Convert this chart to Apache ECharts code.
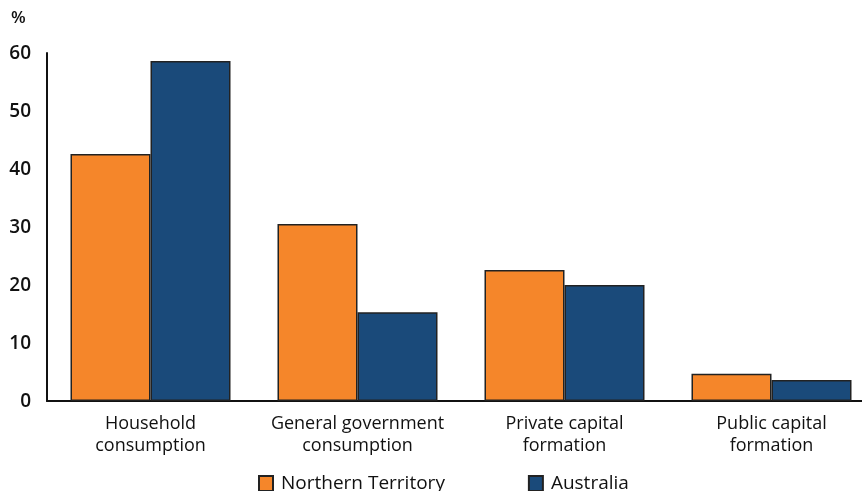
<!DOCTYPE html>
<html>
<head>
<meta charset="utf-8">
<script src="https://cdn.jsdelivr.net/npm/echarts@6/dist/echarts.min.js"></script>
<style>
  html, body { margin: 0; padding: 0; background: #fff; }
  #chart { width: 862px; height: 491px; }
</style>
</head>
<body>
<div id="chart"></div>
<script>
var categories = ['Household\nconsumption', 'General government\nconsumption', 'Private capital\nformation', 'Public capital\nformation']
var ntValues = [42.6, 30.5, 22.6, 4.7]
var ausValues = [58.6, 15.3, 20.0, 3.6]
var yTicks = [0, 10, 20, 30, 40, 50, 60]

var font = 'Open Sans'
var chart = echarts.init(document.getElementById('chart'))

var option = {
  backgroundColor: '#ffffff',
  animation: false,
  textStyle: { fontFamily: font },
  grid: {
    left: 47,
    width: 828,
    top: 53,
    bottom: 90,
    containLabel: false,
    outerBoundsMode: 'none'
  },
  legend: {
    bottom: -7,
    left: 253,
    icon: 'rect',
    itemWidth: 14,
    itemHeight: 15,
    itemGap: 83,
    textStyle: { fontSize: 19, color: '#111', fontFamily: font, fontWeight: 500, padding: [0, 0, 0, 3] },
    data: ['Northern Territory', 'Australia']
  },
  graphic: [
    {
      type: 'text',
      left: 11,
      top: 10,
      style: { text: '%', fontSize: 17, fontWeight: 600, fill: '#111', fontFamily: font }
    }
  ],
  xAxis: {
    type: 'category',
    data: categories,
    axisLine: { lineStyle: { color: '#111', width: 2 } },
    axisTick: { show: false },
    axisLabel: {
      interval: 0,
      color: '#111',
      fontSize: 18,
      fontWeight: 500,
      lineHeight: 22,
      margin: 12
    }
  },
  yAxis: {
    type: 'value',
    min: yTicks[0],
    max: yTicks[yTicks.length - 1],
    interval: 10,
    axisLine: { show: true, lineStyle: { color: '#111', width: 2 } },
    axisTick: { show: false },
    splitLine: { show: false },
    axisLabel: { color: '#111', fontSize: 19, fontWeight: 600, margin: 16, verticalAlign: 'top', padding: [-9, 0, 0, 0] }
  },
  series: [
    {
      name: 'Northern Territory',
      type: 'bar',
      data: ntValues,
      barGap: '0%',
      barCategoryGap: '22.7%',
      itemStyle: { color: '#F5862A', borderColor: '#222', borderWidth: 1.5 }
    },
    {
      name: 'Australia',
      type: 'bar',
      data: ausValues,
      itemStyle: { color: '#1A4A7A', borderColor: '#222', borderWidth: 1.5 }
    }
  ]
}

chart.setOption(option)
</script>
</body>
</html>
